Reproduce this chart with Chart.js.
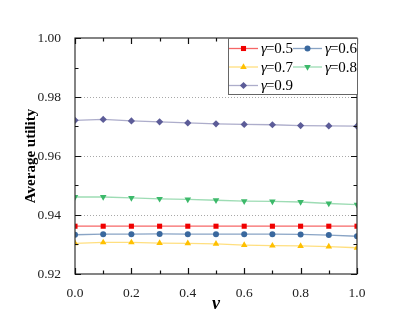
<!DOCTYPE html>
<html>
<head>
<meta charset="utf-8">
<script src="https://cdn.jsdelivr.net/npm/chart.js@4.4.1/dist/chart.umd.min.js"></script>
<style>
  html, body { margin: 0; padding: 0; background: #fff; }
  #wrap { width: 415px; height: 330px; position: relative; }
</style>
</head>
<body>
<div id="wrap"><canvas id="c" width="415" height="330"></canvas></div>
<script>
// ── Data ────────────────────────────────────────────────────────────────────
const nuValues = [0.0, 0.1, 0.2, 0.3, 0.4, 0.5, 0.6, 0.7, 0.8, 0.9, 1.0];

const gamma05 = [0.9362, 0.9362, 0.9362, 0.9362, 0.9362, 0.9362, 0.9362, 0.9362, 0.9362, 0.9362, 0.9362];
const gamma06 = [0.9333, 0.9335, 0.9335, 0.9336, 0.9335, 0.9335, 0.9335, 0.9335, 0.9334, 0.9332, 0.9328];
const gamma07 = [0.9304, 0.9307, 0.9307, 0.9305, 0.9304, 0.9302, 0.9298, 0.9296, 0.9295, 0.9293, 0.9289];
const gamma08 = [0.9461, 0.9461, 0.9458, 0.9455, 0.9453, 0.9450, 0.9447, 0.9446, 0.9444, 0.9439, 0.9435];
const gamma09 = [0.9721, 0.9724, 0.9719, 0.9716, 0.9712, 0.9709, 0.9707, 0.9706, 0.9703, 0.9702, 0.9701];

const seriesLabels = ["0.5", "0.6", "0.7", "0.8", "0.9"];
const yTickValues = [0.92, 0.94, 0.96, 0.98, 1.00];
const yGridValues = [0.94, 0.96, 0.98];
const xTickValues = [0.0, 0.2, 0.4, 0.6, 0.8, 1.0];

const SERIF = "'Liberation Serif', 'Times New Roman', serif";

// ── Dataset styling ─────────────────────────────────────────────────────────
function mkSet(label, values, color, lineColor, style, radius, rotation) {
  return {
    label: label,
    data: values.map((v, i) => ({ x: nuValues[i], y: v })),
    borderColor: lineColor,
    backgroundColor: color,
    pointBackgroundColor: color,
    pointBorderColor: color,
    pointStyle: style,
    pointRotation: rotation || 0,
    pointRadius: radius,
    pointBorderWidth: 0,
    borderWidth: 1.3,
    tension: 0,
  };
}

const datasets = [
  mkSet(seriesLabels[0], gamma05, "#f00000", "rgba(240,0,0,0.6)", "rect", 3.6),
  mkSet(seriesLabels[1], gamma06, "#3a689e", "rgba(58,104,158,0.6)", "circle", 3),
  mkSet(seriesLabels[2], gamma07, "#ffc000", "rgba(255,192,0,0.5)", "triangle", 3.8),
  mkSet(seriesLabels[3], gamma08, "#3cb96a", "rgba(60,185,106,0.5)", "triangle", 3.8, 180),
  mkSet(seriesLabels[4], gamma09, "#5c5c98", "rgba(92,92,152,0.5)", "rectRot", 3.6),
];

// ── Dotted grid behind the data ─────────────────────────────────────────────
const gridPlugin = {
  id: "dotgrid",
  beforeDatasetsDraw(chart) {
    const { ctx, chartArea: a, scales } = chart;
    ctx.save();
    ctx.strokeStyle = "#a8a8a8";
    ctx.lineWidth = 1;
    ctx.setLineDash([1, 2]);
    yGridValues.forEach((v) => {
      const y = Math.round(scales.y.getPixelForValue(v)) + 0.5;
      ctx.beginPath();
      ctx.moveTo(a.left, y); ctx.lineTo(a.right, y);
      ctx.stroke();
    });
    ctx.restore();
  },
};

// ── Frame, inward ticks and in-plot legend ──────────────────────────────────
const framePlugin = {
  id: "frame",
  afterDatasetsDraw(chart) {
    const { ctx, chartArea: a, scales } = chart;
    const xs = scales.x, ys = scales.y;
    ctx.save();
    ctx.strokeStyle = "#333";
    ctx.lineWidth = 1.2;
    ctx.strokeRect(a.left, a.top, a.right - a.left, a.bottom - a.top);

    ctx.strokeStyle = "#111";
    ctx.lineWidth = 1.2;
    // y ticks (major every 0.02, minor every 0.01), inward on both sides
    for (let i = 0; i <= 8; i++) {
      const y = Math.round(ys.getPixelForValue(0.92 + i * 0.01)) + 0.5;
      const len = i % 2 === 0 ? 6 : 3.5;
      ctx.beginPath();
      ctx.moveTo(a.left, y); ctx.lineTo(a.left + len, y);
      ctx.moveTo(a.right, y); ctx.lineTo(a.right - len, y);
      ctx.stroke();
    }
    // x ticks (major every 0.2, minor every 0.1), inward on both sides
    for (let i = 0; i <= 10; i++) {
      const x = Math.round(xs.getPixelForValue(i / 10)) + 0.5;
      const len = i % 2 === 0 ? 6 : 3.5;
      ctx.beginPath();
      ctx.moveTo(x, a.bottom); ctx.lineTo(x, a.bottom - len);
      ctx.moveTo(x, a.top); ctx.lineTo(x, a.top + len);
      ctx.stroke();
    }

    // legend box, top-right inside plot
    const boxL = 228, boxR = a.right, boxT = a.top, boxB = 94;
    ctx.fillStyle = "#fff";
    ctx.fillRect(boxL, boxT, boxR - boxL, boxB - boxT);
    ctx.strokeStyle = "#666";
    ctx.lineWidth = 1;
    ctx.strokeRect(boxL + 0.5, boxT + 0.5, boxR - boxL, boxB - boxT);

    const cols = [229, 293];
    const rows = [48.5, 67, 85.5];
    chart.data.datasets.forEach((ds, i) => {
      const cx = cols[i % 2], cy = rows[Math.floor(i / 2)];
      ctx.strokeStyle = ds.borderColor;
      ctx.lineWidth = 1.3;
      ctx.beginPath();
      ctx.moveTo(cx, cy); ctx.lineTo(cx + 29, cy);
      ctx.stroke();
      ctx.fillStyle = ds.pointBackgroundColor;
      ctx.strokeStyle = ds.pointBorderColor;
      Chart.helpers.drawPoint(ctx, {
        pointStyle: ds.pointStyle, rotation: ds.pointRotation,
        radius: ds.pointRadius, borderWidth: 0,
      }, cx + 14.5, cy);
      ctx.fillStyle = "#000";
      ctx.textBaseline = "middle";
      ctx.font = "italic 15px " + SERIF;
      ctx.fillText("\u03b3", cx + 32, cy + 1);
      const gw = ctx.measureText("\u03b3").width;
      ctx.font = "15px " + SERIF;
      ctx.fillText("=" + ds.label, cx + 32 + gw - 1, cy + 1);
    });
    ctx.restore();
  },
};

// ── Chart ───────────────────────────────────────────────────────────────────
new Chart(document.getElementById("c"), {
  type: "line",
  data: { datasets: datasets },
  plugins: [gridPlugin, framePlugin],
  options: {
    responsive: false,
    animation: false,
    devicePixelRatio: 1,
    layout: { padding: { top: 38, right: 58, left: 22, bottom: 0 } },
    plugins: { legend: { display: false }, tooltip: { enabled: false } },
    scales: {
      x: {
        type: "linear",
        min: 0, max: 1,
        afterBuildTicks(scale) { scale.ticks = xTickValues.map(v => ({ value: v })); },
        afterFit(scale) { scale.height = 56; },
        ticks: {
          color: "#222",
          font: { family: SERIF, size: 13.5 },
          padding: 3,
          callback: (v) => Number(v).toFixed(1),
        },
        grid: { display: false },
        border: { display: false },
        title: {
          display: true, text: "\u03bd", color: "#000",
          font: { family: SERIF, size: 18, style: "italic", weight: "bold" },
          padding: { top: 0, bottom: 15 },
        },
      },
      y: {
        type: "linear",
        min: 0.92, max: 1.0,
        afterBuildTicks(scale) { scale.ticks = yTickValues.map(v => ({ value: v })); },
        afterFit(scale) { scale.width = 53; },
        ticks: {
          color: "#222",
          font: { family: SERIF, size: 13.5 },
          padding: 6,
          callback: (v) => Number(v).toFixed(2),
        },
        grid: { display: false },
        border: { display: false },
        title: {
          display: true, text: "Average utility", color: "#000",
          font: { family: SERIF, size: 15, weight: "bold" },
          padding: { top: 0, bottom: 0 },
        },
      },
    },
  },
});
</script>
</body>
</html>
